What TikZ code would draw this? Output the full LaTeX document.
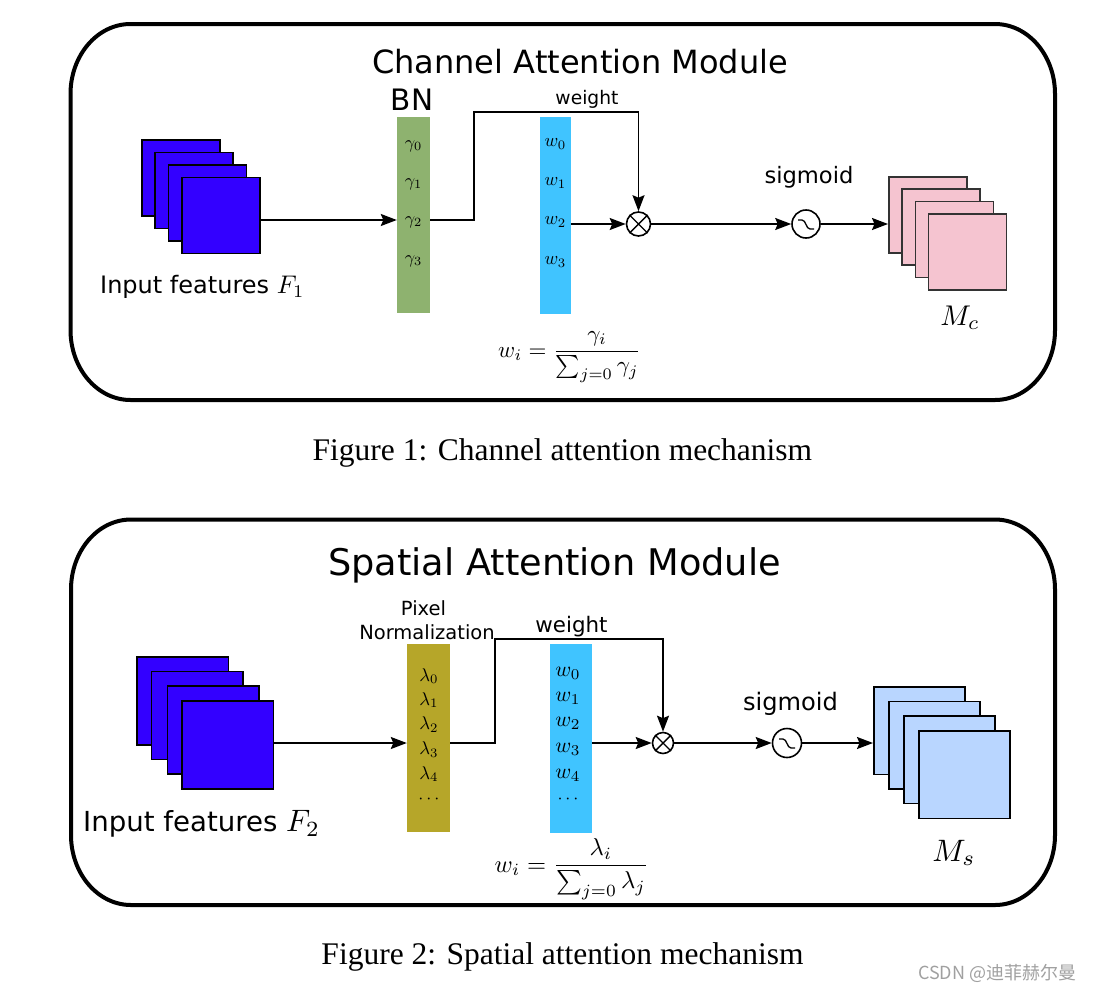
\RequirePackage{fix-cm}
\documentclass[tikz,border=0pt]{standalone}
\usepackage{graphicx}
\usepackage[no-math]{fontspec}
\setmainfont{DejaVu Sans}
\newfontfamily\capfont{Liberation Serif}
\newfontfamily\cjkfont{Noto Sans CJK SC}
\usetikzlibrary{arrows.meta}
\definecolor{inblue}{RGB}{51,0,255}
\definecolor{bngreen}{RGB}{142,178,111}
\definecolor{wblue}{RGB}{64,196,255}
\definecolor{pinkmap}{RGB}{245,196,208}
\definecolor{pnolive}{RGB}{182,166,41}
\definecolor{lbmap}{RGB}{185,214,255}
\definecolor{wmgray}{RGB}{160,160,160}
\newcommand\fsz[1]{\fontsize{#1}{#1}\selectfont}
\newcommand\smath[2]{\scalebox{#1}{\fontsize{10}{12}\selectfont$#2$}}
\begin{document}
\begin{tikzpicture}[x=1pt,y=-1pt,
  modframe/.style={line width=4pt},
  fmap/.style={draw, line width=1.6pt, inner sep=0pt, anchor=north west},
  colbar/.style={inner sep=0pt, draw=none},
  conn/.style={line width=1.8pt},
  arr/.style={conn,-{Stealth[length=16pt,width=12pt,inset=2.5pt]}},
  op/.style={circle, draw, line width=1.6pt, inner sep=0pt},
  lab/.style={inner sep=0pt, anchor=base},
  mlab/.style={inner sep=0pt}
]
\useasboundingbox (0,0) rectangle (1102,993);

% ---------- frames ----------
\draw[modframe] (70.5,94) arc[start angle=180,end angle=270,x radius=60,y radius=70]
  -- (995,24) arc[start angle=270,end angle=360,x radius=60,y radius=70]
  -- (1055,330) arc[start angle=0,end angle=90,x radius=60,y radius=70]
  -- (130.5,400) arc[start angle=90,end angle=180,x radius=60,y radius=70] -- cycle;
\draw[modframe] (71,589.5) arc[start angle=180,end angle=270,x radius=60,y radius=70]
  -- (995,519.5) arc[start angle=270,end angle=360,x radius=60,y radius=70]
  -- (1055,835) arc[start angle=0,end angle=90,x radius=60,y radius=70]
  -- (131,905) arc[start angle=90,end angle=180,x radius=60,y radius=70] -- cycle;

% ================= Channel attention =================
\node[lab] (t1) at (580,73.5) {\fsz{32}Channel Attention Module};
\node[lab] (bn) at (412,110) {\fsz{29.5}BN};

\node[colbar, fill=bngreen, minimum width=33pt, minimum height=196pt] (gcol) at (413.5,215) {};
\node[colbar, fill=wblue, minimum width=31pt, minimum height=197pt] (wcol1) at (555.5,215.5) {};
\foreach \i/\y in {0/146,1/184,2/222,3/261}
  \node[mlab] (g\i) at (413.5,\y) {\smath{1.8}{\gamma_\i}};
\foreach \i/\y in {0/144,1/183,2/222,3/262}
  \node[mlab] (wa\i) at (555.5,\y) {\smath{1.85}{w_\i}};

\node[fmap, fill=inblue, minimum width=78pt, minimum height=76pt] (ia1) at (141,139) {};
\node[fmap, fill=inblue, minimum width=78pt, minimum height=76pt] (ia2) at (154,151.5) {};
\node[fmap, fill=inblue, minimum width=78pt, minimum height=76pt] (ia3) at (167.5,164) {};
\node[fmap, fill=inblue, minimum width=78pt, minimum height=76pt] (ia4) at (181,176.7) {};
\node[lab, anchor=base west] (inl1) at (100,293.3) {\fsz{24}Input features \smath{2.55}{F_1}};

\node[op, minimum size=24pt] (m1) at (638.5,224) {};
\draw[line width=1.4pt] (m1.north west) -- (m1.south east) (m1.north east) -- (m1.south west);
\node[op, minimum size=28pt] (s1) at (806,224) {};
\draw[line width=1.3pt, shift={(s1.center)}] (-8,-4) -- (-4,-4) .. controls (0,-4) and (0,5) .. (4,5) -- (8,5);
\node[lab] (sg1) at (809,183) {\fsz{22.6}sigmoid};

\coordinate (ya) at (0,220);
\coordinate (wt1a) at (474,220);
\coordinate (wt1b) at (474,112);
\draw[arr] (ia4.east |- ya) -- (gcol.west |- ya);
\draw[arr] (gcol.east |- ya) -- (wt1a) -- (wt1b) -- (wt1b -| m1) -- (m1.north);
\node[lab] (wl1) at (587,104) {\fsz{18.7}weight};
\draw[arr] (wcol1.east |- m1) -- (m1.west);
\draw[arr] (m1.east) -- (s1.west);

\node[fmap, fill=pinkmap, draw=black!80, minimum width=78pt, minimum height=76pt] (pa1) at (888,176) {};
\node[fmap, fill=pinkmap, draw=black!80, minimum width=78pt, minimum height=76pt] (pa2) at (901,188.3) {};
\node[fmap, fill=pinkmap, draw=black!80, minimum width=78pt, minimum height=76pt] (pa3) at (914.5,200.6) {};
\node[fmap, fill=pinkmap, draw=black!80, minimum width=78pt, minimum height=76pt] (pa4) at (927.5,213) {};
\draw[arr] (s1.east) -- (pa1.west |- s1);
\node[lab] (mc) at (960,325) {\smath{2.85}{M_c}};

\node[lab, anchor=base west] (f1) at (498,357) {\smath{2.3}{\displaystyle w_i=\frac{\gamma_i}{\sum_{j=0}\gamma_j}}};

\node[lab] (c1) at (562.4,460) {\fsz{31.5}\capfont Figure 1: Channel attention mechanism};

% ================= Spatial attention =================
\node[lab] (t2) at (554.5,575.5) {\fsz{36.7}Spatial Attention Module};
\node[lab] (pix) at (423.5,615) {\fsz{19.5}Pixel};
\node[lab] (norm) at (427,639) {\fsz{19.5}Normalization};

\node[colbar, fill=pnolive, minimum width=43pt, minimum height=188pt] (ocol) at (428.5,738) {};
\node[colbar, fill=wblue, minimum width=41.5pt, minimum height=188.5pt] (wcol2) at (571,738.4) {};
\foreach \i/\y in {0/676,1/700,2/724.5,3/749.5,4/774}
  \node[mlab] (l\i) at (428.8,\y) {\smath{1.85}{\lambda_\i}};
\node[mlab] (ld) at (428.8,799) {\smath{1.8}{\cdots}};
\foreach \i/\y in {0/673,1/698,2/723,3/749,4/775}
  \node[mlab] (wb\i) at (568,\y) {\smath{2.15}{w_\i}};
\node[mlab] (wd) at (568,799) {\smath{1.8}{\cdots}};

\node[fmap, fill=inblue, minimum width=91.5pt, minimum height=88pt] (ib1) at (136,656) {};
\node[fmap, fill=inblue, minimum width=91.5pt, minimum height=88pt] (ib2) at (150.8,670.5) {};
\node[fmap, fill=inblue, minimum width=91.5pt, minimum height=88pt] (ib3) at (166.5,685) {};
\node[fmap, fill=inblue, minimum width=91.5pt, minimum height=88pt] (ib4) at (181.3,700) {};
\node[lab, anchor=base west] (inl2) at (83,831.7) {\fsz{27.6}Input features \smath{3.1}{F_2}};

\node[op, minimum size=21pt] (m2) at (663,743) {};
\draw[line width=1.4pt] (m2.north west) -- (m2.south east) (m2.north east) -- (m2.south west);
\node[op, minimum size=29pt] (s2) at (787,743) {};
\draw[line width=1.3pt, shift={(s2.center)}] (-8,-4) -- (-4,-4) .. controls (0,-4) and (0,5) .. (4,5) -- (8,5);
\node[lab] (sg2) at (790.5,710) {\fsz{24.1}sigmoid};

\coordinate (yb) at (0,743);
\coordinate (wt2a) at (494.7,743);
\coordinate (wt2b) at (494.7,639);
\draw[arr] (ib4.east |- yb) -- (ocol.west |- yb);
\draw[arr] (ocol.east |- yb) -- (wt2a) -- (wt2b) -- (wt2b -| m2) -- (m2.north);
\node[lab] (wl2) at (571.5,632.7) {\fsz{21.4}weight};
\draw[arr] (wcol2.east |- m2) -- (m2.west);
\draw[arr] (m2.east) -- (s2.west);

\node[fmap, fill=lbmap, minimum width=91pt, minimum height=87.5pt] (bb1) at (873,686) {};
\node[fmap, fill=lbmap, minimum width=91pt, minimum height=87.5pt] (bb2) at (888,700.7) {};
\node[fmap, fill=lbmap, minimum width=91pt, minimum height=87.5pt] (bb3) at (903.2,715) {};
\node[fmap, fill=lbmap, minimum width=91pt, minimum height=87.5pt] (bb4) at (918.2,730) {};
\draw[arr] (s2.east) -- (bb1.west |- s2);
\node[lab] (ms) at (954,861) {\smath{3.1}{M_s}};

\node[lab, anchor=base west] (f2) at (494.5,872) {\smath{2.45}{\displaystyle w_i=\frac{\lambda_i}{\sum_{j=0}\lambda_j}}};

\node[lab] (c2) at (562.5,964) {\fsz{31.5}\capfont Figure 2: Spatial attention mechanism};

\node[lab, anchor=base west, text=wmgray] (wm) at (918,979.5) {\fsz{18}\cjkfont CSDN @迪菲赫尔曼};
\end{tikzpicture}
\end{document}
